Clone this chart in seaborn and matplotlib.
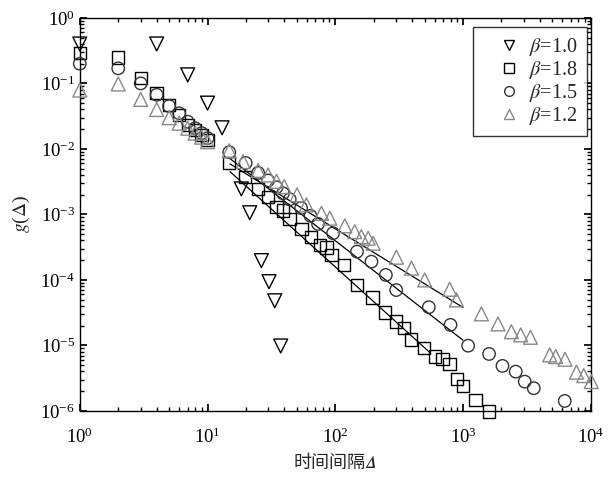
import numpy as np
import pandas as pd
import seaborn as sns
import matplotlib.pyplot as plt

# 数据
x_b10 = [1, 4, 7, 10, 13, 18.4, 21.4, 26.4, 30.3, 33.6, 37.4]
y_b10 = [0.40, 0.40, 0.135, 0.05, 0.021, 0.00245, 0.00106, 1.97e-4, 9.4e-5, 4.8e-5, 9.8e-6]

x_b18 = [1, 2, 3, 4, 5, 6, 7, 8, 9, 10,
         14.8, 19.6, 24.9, 29.8, 34.7, 39, 44, 54.3, 64.3, 75.6, 85.3, 93.4,
         116.6, 148, 195, 244, 298, 344, 390, 496, 601, 690, 787, 898, 1000,
         1250, 1600]
y_b18 = [0.29, 0.25, 0.12, 0.071, 0.047, 0.033, 0.023, 0.0195, 0.0163, 0.0137,
         0.00605, 0.0037, 0.00243, 0.00183, 0.00129, 0.00114, 8.45e-4, 5.94e-4,
         4.49e-4, 3.42e-4, 3.11e-4, 2.41e-4, 1.68e-4, 8.4e-5, 5.4e-5, 3.17e-5,
         2.31e-5, 1.83e-5, 1.24e-5, 9.06e-6, 6.75e-6, 6.15e-6, 5.16e-6, 3.08e-6,
         2.41e-6, 1.47e-6, 9.8e-7]

x_b15 = [1, 2, 3, 4, 5, 6, 7, 8, 9, 10,
         14.8, 19.9, 24.9, 29.8, 34.7, 39, 44, 54, 64, 73.3, 96.1, 148, 192,
         249, 300, 540, 798, 1097, 1600, 2037, 2589, 3043, 3580, 6260]
y_b15 = [0.20, 0.17, 0.10, 0.067, 0.045, 0.035, 0.026, 0.0207, 0.0174, 0.0146,
         0.0089, 0.0061, 0.0043, 0.0033, 0.0026, 0.0021, 0.0017, 0.00125, 9.5e-4,
         7.16e-4, 5.16e-4, 2.7e-4, 1.9e-4, 1.19e-4, 7.0e-5, 3.83e-5, 2.06e-5,
         9.9e-6, 7.4e-6, 4.87e-6, 3.98e-6, 2.8e-6, 2.22e-6, 1.42e-6]

x_b12 = [1, 2, 3, 4, 5, 6, 7, 8, 9, 10,
         14.8, 19, 24.9, 29.8, 34.7, 39.8, 50.2, 59.5, 78, 90.6, 118.7, 142,
         160, 181, 198, 301, 395, 501, 787, 889, 1393, 1880, 2393, 2830, 3373,
         4775, 5320, 6295, 7730, 8815, 10100]
y_b12 = [0.079, 0.098, 0.057, 0.040, 0.030, 0.0247, 0.0207, 0.0174, 0.0151, 0.0129,
         0.0094, 0.0064, 0.0047, 0.0040, 0.0032, 0.00266, 0.00199, 0.0014, 0.00104,
         8.75e-4, 6.7e-4, 5.46e-4, 4.58e-4, 4.33e-4, 3.63e-4, 2.22e-4, 1.51e-4,
         1e-4, 7.2e-5, 4.95e-5, 3.03e-5, 2.13e-5, 1.62e-5, 1.45e-5, 1.33e-5,
         7.16e-6, 6.75e-6, 6.15e-6, 3.9e-6, 3.46e-6, 2.8e-6]

# fitted power-law lines (end points)
fit_x18 = [15, 550]
fit_y18 = [0.0045, 7.8e-6]
fit_x15 = [15, 1000]
fit_y15 = [0.0071, 1.2e-5]
fit_x12 = [15, 1000]
fit_y12 = [0.0059, 3.8e-5]

sns.set_theme(style="ticks")
plt.rcParams['font.family'] = ['Liberation Serif', 'Noto Sans CJK SC', 'STIXGeneral']
plt.rcParams['mathtext.fontset'] = 'stix'

fig = plt.figure(figsize=(6.09, 4.84), dpi=100)
ax = fig.add_axes([0.131, 0.151, 0.839, 0.812])

for fx, fy in [(fit_x18, fit_y18), (fit_x15, fit_y15), (fit_x12, fit_y12)]:
    sns.lineplot(x=fx, y=fy, ax=ax, color='black', lw=0.9, zorder=1)

series = [
    (x_b10, y_b10, 'v', 'black', r'$\beta$=1.0', 100),
    (x_b18, y_b18, 's', 'black', r'$\beta$=1.8', 80),
    (x_b15, y_b15, 'o', '#333333', r'$\beta$=1.5', 80),
    (x_b12, y_b12, '^', '#888888', r'$\beta$=1.2', 100),
]
handles = []
for xs, ys, m, c, lab, s in series:
    sns.scatterplot(x=xs, y=ys, ax=ax, marker=m, s=s, facecolor='none',
                    edgecolor=c, linewidth=1.0, clip_on=False, zorder=3)
    handles.append(plt.Line2D([], [], ls='none', marker=m, ms=7, mfc='none',
                              mec=c, mew=1.0, label=lab))

ax.set_xscale('log')
ax.set_yscale('log')
ax.set_xlim(1, 1e4)
ax.set_ylim(1e-6, 1)
ax.tick_params(which='both', direction='in', top=True, right=True,
               labelsize=13.5, colors='black')
ax.tick_params(axis='x', which='major', pad=12)
ax.tick_params(which='major', length=5)
ax.tick_params(which='minor', length=3)
for sp in ax.spines.values():
    sp.set_color('black')
    sp.set_linewidth(1.0)

ax.set_xlabel('时间间隔\U0001D6E5', fontsize=13, labelpad=6)
ax.set_ylabel('$g$($\\mathit{\\Delta}$)', fontsize=14, labelpad=6)

leg = ax.legend(handles=handles, loc='upper right',
                bbox_to_anchor=(0.992, 0.977), borderaxespad=0,
                prop={'size': 14.5}, frameon=True, fancybox=False,
                edgecolor='black', handlelength=2.6, handletextpad=-0.3,
                labelspacing=0.05, borderpad=0.45)
leg.get_frame().set_linewidth(1.0)

fig.savefig('out.png', dpi=100)
